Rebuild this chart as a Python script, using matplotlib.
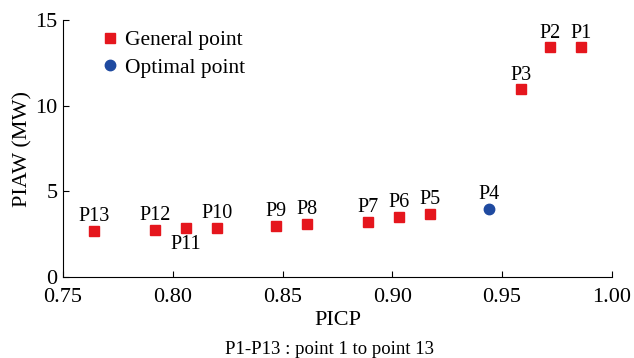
import matplotlib
matplotlib.use("Agg")
import matplotlib.pyplot as plt

plt.rcParams["font.family"] = ["Liberation Serif", "DejaVu Serif"]

names = ["P1", "P2", "P3", "P4", "P5", "P6", "P7", "P8", "P9", "P10", "P11", "P12", "P13"]
picp = [0.986, 0.972, 0.9586, 0.944, 0.917, 0.903, 0.889, 0.861, 0.847, 0.820, 0.806, 0.792, 0.764]
piaw = [13.4, 13.4, 10.95, 4.0, 3.7, 3.5, 3.2, 3.1, 3.0, 2.86, 2.86, 2.75, 2.7]
optimal = "P4"
below = ["P11"]

red = "#E5161D"
blue = "#1F4AA0"

fig = plt.figure(figsize=(6.34, 3.58), dpi=100)
ax = fig.add_axes([0.0994, 0.226, 0.8656, 0.718])

gx = [x for n, x in zip(names, picp) if n != optimal]
gy = [y for n, y in zip(names, piaw) if n != optimal]
ox = [x for n, x in zip(names, picp) if n == optimal]
oy = [y for n, y in zip(names, piaw) if n == optimal]

ax.plot(gx, gy, ls="none", marker="s", ms=7, color=red, label="General point")
ax.plot(ox, oy, ls="none", marker="o", ms=7.5, color=blue, label="Optimal point")

for n, x, y in zip(names, picp, piaw):
    if n in below:
        ax.annotate(n, (x, y), xytext=(0, -5), textcoords="offset points",
                    ha="center", va="top", fontsize=14.5)
    else:
        ax.annotate(n, (x, y), xytext=(0, 3.5), textcoords="offset points",
                    ha="center", va="bottom", fontsize=14.5)

ax.set_xlim(0.75, 1.00)
ax.set_ylim(0, 15)
ax.set_xticks([0.75, 0.80, 0.85, 0.90, 0.95, 1.00])
ax.set_xticklabels(["0.75", "0.80", "0.85", "0.90", "0.95", "1.00"])
ax.set_yticks([0, 5, 10, 15])
ax.tick_params(direction="in", labelsize=16, length=4)
ax.tick_params(axis="x", pad=8)
ax.tick_params(axis="y", pad=4)
ax.spines["top"].set_visible(False)
ax.spines["right"].set_visible(False)
ax.set_xlabel("PICP", fontsize=16, labelpad=3)
ax.set_ylabel("PIAW (MW)", fontsize=16, labelpad=2)

ax.legend(loc="upper left", bbox_to_anchor=(0.035, 1.02), frameon=False, fontsize=15.5,
          handletextpad=0.1, borderaxespad=0.3, labelspacing=0.35, handlelength=1.2)

fig.text(0.52, 0.0, "P1-P13 : point 1 to point 13", ha="center", va="bottom", fontsize=13.5)

fig.savefig("out.png", dpi=100)
